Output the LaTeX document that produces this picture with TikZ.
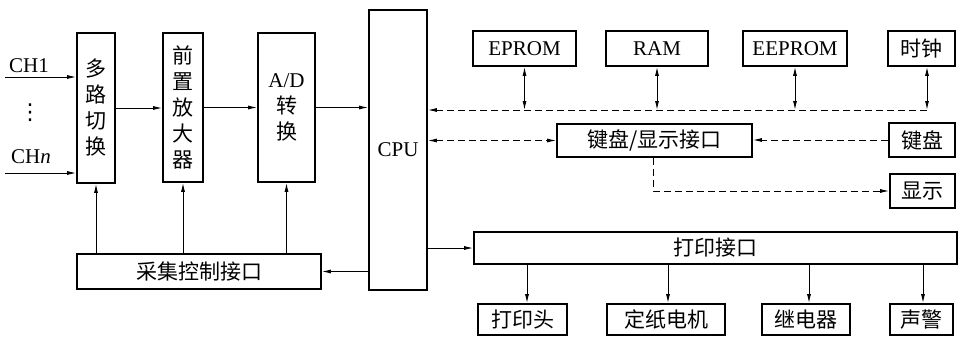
\documentclass[tikz,border=0pt]{standalone}
\usepackage{fontspec}
\setmainfont{Liberation Serif}
\newfontfamily\cjk{Noto Sans CJK SC}
\newfontfamily\symf{DejaVu Sans}
\usetikzlibrary{arrows.meta}
\begin{document}
\begin{tikzpicture}[x=1pt,y=-1pt,
  box/.style={draw, line width=1.6pt, inner sep=0pt, align=center,
    font=\fontsize{21}{26}\selectfont},
  line/.style={line width=1pt},
  dline/.style={line width=1pt, dash pattern=on 7pt off 4pt},
  arr/.style={-{Latex[length=9pt,width=4pt]}},
  darr/.style={{Latex[length=9pt,width=4pt]}-{Latex[length=9pt,width=4pt]}},
  lbl/.style={inner sep=0pt, font=\fontsize{21}{24}\selectfont}]
\useasboundingbox (0,0) rectangle (958,338);

% left column
\node[box, minimum width=38pt, minimum height=150pt] (mux) at (96,108) {\cjk 多\\ \cjk 路\\ \cjk 切\\ \cjk 换};
\node[box, minimum width=40pt, minimum height=149pt] (pre) at (183,107.5) {\cjk 前\\ \cjk 置\\ \cjk 放\\ \cjk 大\\ \cjk 器};
\node[box, minimum width=57pt, minimum height=149pt] (ad) at (286.5,107.5) {A/D\\ \cjk 转\\ \cjk 换};
\node[box, minimum width=58pt, minimum height=280pt] (cpu) at (398,150) {CPU};
\node[box, minimum width=244pt, minimum height=35pt] (acq) at (199,271.5) {\cjk 采集控制接口};

% top row
\node[box, minimum width=103pt, minimum height=35pt] (eprom) at (524.5,48.5) {EPROM};
\node[box, minimum width=102pt, minimum height=35pt] (ram) at (657,48.5) {RAM};
\node[box, minimum width=104pt, minimum height=35pt] (eeprom) at (795,48.5) {EEPROM};
\node[box, minimum width=67pt, minimum height=35pt] (clock) at (921.5,48.5) {\cjk 时钟};

% keyboard / display
\node[box, minimum width=195pt, minimum height=33pt] (kdi) at (654.5,140.5) {\cjk 键盘/显示接口};
\node[box, minimum width=66pt, minimum height=34pt] (kb) at (922,140) {\cjk 键盘};
\node[box, minimum width=65pt, minimum height=34pt] (disp) at (922.5,191) {\cjk 显示};

% print
\node[box, minimum width=483pt, minimum height=32pt] (pi) at (715.5,248) {\cjk 打印接口};
\node[box, minimum width=89pt, minimum height=31pt] (ph) at (522.5,319.5) {\cjk 打印头};
\node[box, minimum width=118pt, minimum height=31pt] (pm) at (666,319.5) {\cjk 定纸电机};
\node[box, minimum width=88pt, minimum height=31pt] (relay) at (806,319.5) {\cjk 继电器};
\node[box, minimum width=63pt, minimum height=31pt] (alarm) at (921.5,319.5) {\cjk 声警};

% inputs
\node[lbl] (ch1lbl) at (29,66) {CH1};
\node[lbl] (chnlbl) at (31,157) {CH\textit{n}};
\node[lbl, font=\symf\fontsize{22}{24}\selectfont] (dots) at (30,113) {⋮};
\coordinate (ch1) at (5,77);
\coordinate (chn) at (5,173);
\draw[line,arr] (ch1) -- (ch1 -| mux.west);
\draw[line,arr] (chn) -- (chn -| mux.west);

% signal chain
\draw[line,arr] (mux.east) -- (mux.east -| pre.west);
\draw[line,arr] (pre.east) -- (pre.east -| ad.west);
\draw[line,arr] (ad.east) -- (ad.east -| cpu.west);

% acquisition control
\draw[line,arr] (acq.north -| mux.south) -- (mux.south);
\draw[line,arr] (acq.north -| pre.south) -- (pre.south);
\draw[line,arr] (acq.north -| ad.south) -- (ad.south);
\draw[line,arr] (cpu.west |- acq.east) -- (acq.east);

% bus
\coordinate (busR) at (927,110);
\draw[dline,arr] (busR) -- (cpu.east |- busR);
\draw[line,darr] (eprom.south) -- (eprom.south |- busR);
\draw[line,darr] (ram.south) -- (ram.south |- busR);
\draw[line,darr] (eeprom.south) -- (eeprom.south |- busR);
\draw[line,darr] ([xshift=5.5pt]clock.south) -- (busR);

% keyboard / display
\draw[dline,darr] (cpu.east |- kdi.west) -- (kdi.west);
\draw[dline,arr] (kb.west) -- (kdi.east |- kb.west);
\draw[dline,arr] ([xshift=-1.5pt]kdi.south) |- (disp.west);

% print
\draw[line,arr] (cpu.east |- pi.west) -- (pi.west);
\draw[line,arr] ([xshift=4.5pt]ph.north |- pi.south) -- ([xshift=4.5pt]ph.north);
\draw[line,arr] ([xshift=2pt]pm.north |- pi.south) -- ([xshift=2pt]pm.north);
\draw[line,arr] ([xshift=3pt]relay.north |- pi.south) -- ([xshift=3pt]relay.north);
\draw[line,arr] ([xshift=1.5pt]alarm.north |- pi.south) -- ([xshift=1.5pt]alarm.north);
\end{tikzpicture}
\end{document}
